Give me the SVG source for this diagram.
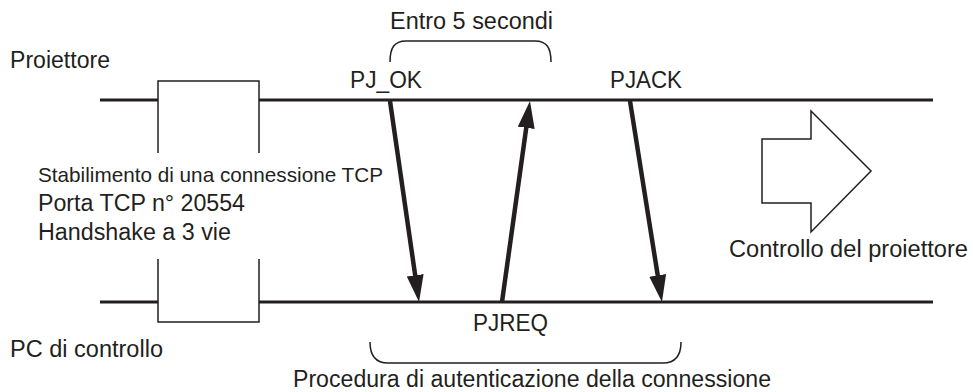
<svg xmlns="http://www.w3.org/2000/svg" width="973" height="392" viewBox="0 0 973 392">
<style>
text{font-family:"Liberation Sans",Arial,sans-serif;font-size:23px;fill:#231f20}
.small{font-size:21px}
.lane{stroke:#231f20;stroke-width:3;fill:none}
.thin{stroke:#231f20;stroke-width:1.5;fill:none}
.msg{stroke:#231f20;stroke-width:4.5;fill:none;marker-end:url(#ah)}
</style>
<defs>
<marker id="ah" markerUnits="userSpaceOnUse" markerWidth="30" markerHeight="20" refX="12" refY="8.5" orient="auto">
<path d="M0,0 L27,8.5 L0,17 z" fill="#231f20"/>
</marker>
</defs>
<rect width="973" height="392" fill="#fff"/>
<g id="projector-lane">
<line class="lane" x1="100" y1="100" x2="158" y2="100"/>
<line class="lane" x1="259" y1="100" x2="933" y2="100"/>
<text x="10" y="68" textLength="100" lengthAdjust="spacingAndGlyphs">Proiettore</text>
</g>
<g id="pc-lane">
<line class="lane" x1="100" y1="302" x2="158" y2="302"/>
<line class="lane" x1="259" y1="302" x2="933" y2="302"/>
<text x="10" y="357" textLength="153" lengthAdjust="spacingAndGlyphs">PC di controllo</text>
</g>
<g id="tcp-box">
<polyline class="thin" points="158,100 158,81 259,81 259,153"/>
<line class="thin" x1="158" y1="100" x2="158" y2="153"/>
<polyline class="thin" points="158,259 158,322 259,322 259,259"/>
<text class="small" x="38" y="182" textLength="345" lengthAdjust="spacingAndGlyphs">Stabilimento di una connessione TCP</text>
<text x="38" y="211" textLength="207" lengthAdjust="spacingAndGlyphs">Porta TCP n° 20554</text>
<text x="38" y="240" textLength="193" lengthAdjust="spacingAndGlyphs">Handshake a 3 vie</text>
</g>
<g id="labels">
<text x="350" y="88" textLength="72" lengthAdjust="spacingAndGlyphs">PJ_OK</text>
<text x="610" y="88" textLength="72" lengthAdjust="spacingAndGlyphs">PJACK</text>
<text x="473" y="331" textLength="75" lengthAdjust="spacingAndGlyphs">PJREQ</text>
</g>
<g id="brace-timeout">
<path class="thin" d="M390,62 C390,48 394,41 406,41 L535,41 C547,41 551,48 551,62"/>
<text x="390" y="29" textLength="163" lengthAdjust="spacingAndGlyphs">Entro 5 secondi</text>
</g>
<g id="brace-auth">
<path class="thin" d="M370,342 C370,356 376,363 388,363 L663,363 C675,363 681,356 681,342"/>
<text x="293" y="387" textLength="478" lengthAdjust="spacingAndGlyphs">Procedura di autenticazione della connessione</text>
</g>
<g id="control">
<polygon class="thin" points="762,139 811,139 811,111 871,171 811,232 811,203 762,203" style="fill:#fff"/>
<text x="729" y="257" textLength="239" lengthAdjust="spacingAndGlyphs">Controllo del proiettore</text>
</g>
<g id="connectors">
<line class="msg" x1="390" y1="101" x2="416.9" y2="287.2"/>
<line class="msg" x1="502" y1="302" x2="527.9" y2="115.9"/>
<line class="msg" x1="630" y1="101" x2="659.6" y2="287.2"/>
</g>
</svg>
